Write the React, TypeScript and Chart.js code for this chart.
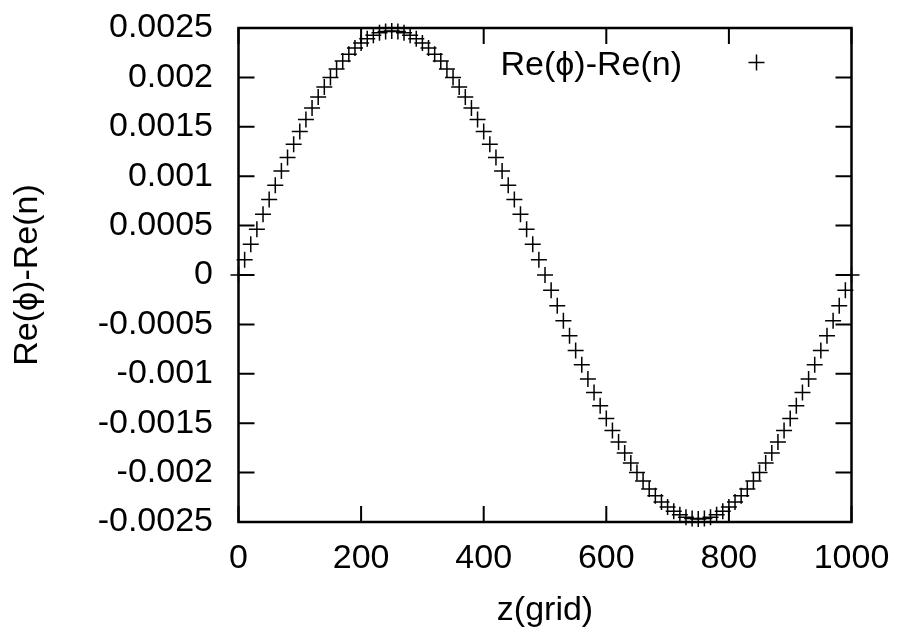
import React, { useEffect, useRef } from "react";
import { Chart, registerables } from "chart.js";

Chart.register(...registerables);

// ---- data ----
const Z_GRID = [
  0, 10, 20, 30, 40, 50, 60, 70, 80, 90,
  100, 110, 120, 130, 140, 150, 160, 170, 180, 190,
  200, 210, 220, 230, 240, 250, 260, 270, 280, 290,
  300, 310, 320, 330, 340, 350, 360, 370, 380, 390,
  400, 410, 420, 430, 440, 450, 460, 470, 480, 490,
  500, 510, 520, 530, 540, 550, 560, 570, 580, 590,
  600, 610, 620, 630, 640, 650, 660, 670, 680, 690,
  700, 710, 720, 730, 740, 750, 760, 770, 780, 790,
  800, 810, 820, 830, 840, 850, 860, 870, 880, 890,
  900, 910, 920, 930, 940, 950, 960, 970, 980, 990,
  1000,
];

const RE_DIFF = [
  0, 0.000155, 0.00031, 0.000463, 0.000614, 0.000763, 0.000909, 0.001052, 0.00119, 0.001324,
  0.001452, 0.001574, 0.001691, 0.001801, 0.001903, 0.001998, 0.002086, 0.002165, 0.002235, 0.002297,
  0.002349, 0.002392, 0.002426, 0.002451, 0.002465, 0.00247, 0.002465, 0.002451, 0.002426, 0.002392,
  0.002349, 0.002297, 0.002235, 0.002165, 0.002086, 0.001998, 0.001903, 0.001801, 0.001691, 0.001574,
  0.001452, 0.001324, 0.00119, 0.001052, 0.000909, 0.000763, 0.000614, 0.000463, 0.00031, 0.000155,
  0, -0.000155, -0.00031, -0.000463, -0.000614, -0.000763, -0.000909, -0.001052, -0.00119, -0.001324,
  -0.001452, -0.001574, -0.001691, -0.001801, -0.001903, -0.001998, -0.002086, -0.002165, -0.002235, -0.002297,
  -0.002349, -0.002392, -0.002426, -0.002451, -0.002465, -0.00247, -0.002465, -0.002451, -0.002426, -0.002392,
  -0.002349, -0.002297, -0.002235, -0.002165, -0.002086, -0.001998, -0.001903, -0.001801, -0.001691, -0.001574,
  -0.001452, -0.001324, -0.00119, -0.001052, -0.000909, -0.000763, -0.000614, -0.000463, -0.00031, -0.000155,
  0,
];

const X_TICKS = [0, 200, 400, 600, 800, 1000];
const X_TICK_LABELS = ["0", "200", "400", "600", "800", "1000"];
const Y_TICKS = [-0.0025, -0.002, -0.0015, -0.001, -0.0005, 0, 0.0005, 0.001, 0.0015, 0.002, 0.0025];
const Y_TICK_LABELS = ["-0.0025", "-0.002", "-0.0015", "-0.001", "-0.0005", "0", "0.0005", "0.001", "0.0015", "0.002", "0.0025"];

const SERIES_LABEL = "Re(\u03d5)-Re(n)";
const X_TITLE = "z(grid)";
const Y_TITLE = "Re(\u03d5)-Re(n)";

const FONT_FAMILY = '"Liberation Sans", Arial, Helvetica, "DejaVu Sans", sans-serif';
const FONT_SIZE = 34;

export default function App() {
  const canvasRef = useRef<HTMLCanvasElement | null>(null);

  useEffect(() => {
    const canvas = canvasRef.current;
    if (!canvas) return;

    const framePlugin = {
      id: "gnuFrame",
      beforeDatasetsDraw(chart: any) {
        const { ctx, chartArea, scales } = chart;
        const { left, right, top, bottom } = chartArea;
        const xs = scales.x;
        const ys = scales.y;
        const TICK = 16;
        ctx.save();
        ctx.strokeStyle = "#000";
        ctx.lineWidth = 2;
        ctx.beginPath();
        for (const v of X_TICKS) {
          const px = xs.getPixelForValue(v);
          ctx.moveTo(px, bottom);
          ctx.lineTo(px, bottom - TICK);
          ctx.moveTo(px, top);
          ctx.lineTo(px, top + TICK);
        }
        for (const v of Y_TICKS) {
          const py = ys.getPixelForValue(v);
          ctx.moveTo(left, py);
          ctx.lineTo(left + TICK, py);
          ctx.moveTo(right, py);
          ctx.lineTo(right - TICK, py);
        }
        ctx.stroke();
        ctx.lineWidth = 2.5;
        ctx.strokeRect(left, top, right - left, bottom - top);
        ctx.restore();
      },
    };

    const legendPlugin = {
      id: "gnuKey",
      afterDraw(chart: any) {
        const { ctx, chartArea } = chart;
        const ds = chart.data.datasets[0];
        const textRight = chartArea.right - 169.5;
        const baseline = chartArea.top + 47;
        const mx = chartArea.right - 95;
        const my = chartArea.top + 34.5;
        const r = 8;
        ctx.save();
        ctx.fillStyle = "#000";
        ctx.font = `${FONT_SIZE}px ${FONT_FAMILY}`;
        ctx.textAlign = "right";
        ctx.textBaseline = "alphabetic";
        ctx.fillText(ds.label, textRight, baseline);
        ctx.strokeStyle = "#000";
        ctx.lineWidth = 1.5;
        ctx.beginPath();
        ctx.moveTo(mx - r, my);
        ctx.lineTo(mx + r, my);
        ctx.moveTo(mx, my - r);
        ctx.lineTo(mx, my + r);
        ctx.stroke();
        ctx.restore();
      },
    };

    const chart = new Chart(canvas, {
      type: "scatter",
      data: {
        datasets: [
          {
            label: SERIES_LABEL,
            data: Z_GRID.map((z, i) => ({ x: z, y: RE_DIFF[i] })),
            pointStyle: "cross",
            pointRadius: 8,
            pointHoverRadius: 8,
            borderColor: "#000",
            backgroundColor: "#000",
            pointBorderWidth: 1.5,
            borderWidth: 1.5,
            showLine: false,
            clip: false,
          } as any,
        ],
      },
      options: {
        responsive: false,
        animation: false,
        devicePixelRatio: 1,
        layout: { padding: { left: 0, right: 48.5, top: 28, bottom: 0 } },
        plugins: {
          legend: { display: false },
          tooltip: { enabled: false },
        },
        scales: {
          x: {
            type: "linear",
            min: 0,
            max: 1000,
            afterBuildTicks(scale: any) {
              scale.ticks = X_TICKS.map((v) => ({ value: v }));
            },
            afterFit(scale: any) {
              scale.height = 110;
              scale.paddingLeft = 0;
              scale.paddingRight = 0;
              scale.paddingTop = 0;
              scale.paddingBottom = 0;
            },
            ticks: {
              autoSkip: false,
              maxRotation: 0,
              padding: 15.8,
              color: "#000",
              font: { family: FONT_FAMILY, size: FONT_SIZE },
              callback: (_v: any, i: number) => X_TICK_LABELS[i],
            },
            grid: { display: false, drawTicks: false },
            border: { display: false },
            title: {
              display: true,
              text: X_TITLE,
              color: "#000",
              font: { family: FONT_FAMILY, size: FONT_SIZE },
              padding: { top: 0, bottom: 1 },
            },
          },
          y: {
            type: "linear",
            min: -0.0025,
            max: 0.0025,
            afterBuildTicks(scale: any) {
              scale.ticks = Y_TICKS.map((v) => ({ value: v }));
            },
            afterFit(scale: any) {
              scale.width = 238.5;
              scale.paddingLeft = 0;
              scale.paddingRight = 0;
              scale.paddingTop = 0;
              scale.paddingBottom = 0;
            },
            ticks: {
              autoSkip: false,
              padding: 25.5,
              color: "#000",
              font: { family: FONT_FAMILY, size: FONT_SIZE },
              callback: (_v: any, i: number) => Y_TICK_LABELS[i],
            },
            grid: { display: false, drawTicks: false },
            border: { display: false },
            title: {
              display: true,
              text: Y_TITLE,
              color: "#000",
              font: { family: FONT_FAMILY, size: FONT_SIZE },
              padding: { top: 7, bottom: 0 },
            },
          },
        },
      },
      plugins: [framePlugin, legendPlugin],
    });

    return () => {
      chart.destroy();
    };
  }, []);

  return (
    <div style={{ position: "absolute", left: 0, top: 0, width: 900, height: 632, background: "#fff" }}>
      <canvas ref={canvasRef} width={900} height={632} style={{ display: "block", width: 900, height: 632 }} />
    </div>
  );
}
